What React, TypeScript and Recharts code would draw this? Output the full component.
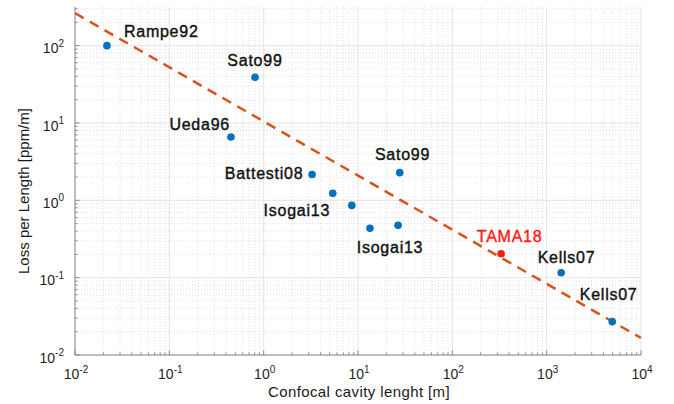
import React from 'react';
import { ScatterChart, Scatter, XAxis, YAxis, CartesianGrid } from 'recharts';

// ---- data ----
const pointX = [0.0218, 0.81, 0.45, 3.26, 5.4, 8.6, 27.7, 13.4, 26.6, 1426, 4955];
const pointY = [100, 39, 6.6, 2.16, 1.23, 0.86, 2.28, 0.435, 0.475, 0.116, 0.027];
const pointNames = ['Rampe92', 'Sato99', 'Ueda96', 'Battesti08', '', 'Isogai13', 'Sato99', 'Isogai13', '', 'Kells07', 'Kells07'];

const tamaX = [329];
const tamaY = [0.204];
const tamaNames = ['TAMA18'];

const fitX = [0.01, 10000];
const fitY = [263, 0.0166];

const xMajorTicks = [0.01, 0.1, 1, 10, 100, 1000, 10000];
const yMajorTicks = [0.01, 0.1, 1, 10, 100];
const xDomain = [0.01, 10000];
const yDomain = [0.01, 316];

// ---- layout (label offsets in px relative to each point) ----
const labelLayout: { dx: number; dy: number; anchor: 'start' | 'middle' | 'end' }[] = [
  { dx: 17, dy: -14.7, anchor: 'start' },
  { dx: -27.7, dy: -17.3, anchor: 'start' },
  { dx: -1, dy: -12.3, anchor: 'end' },
  { dx: -8.7, dy: -0.7, anchor: 'end' },
  { dx: 0, dy: 0, anchor: 'start' },
  { dx: -21.7, dy: 4.7, anchor: 'end' },
  { dx: 2.8, dy: -18, anchor: 'middle' },
  { dx: 20, dy: 19, anchor: 'middle' },
  { dx: 0, dy: 0, anchor: 'start' },
  { dx: 5.3, dy: -15.4, anchor: 'middle' },
  { dx: -3.6, dy: -27.3, anchor: 'middle' },
];
const tamaLayout = [{ dx: 8.5, dy: -17.6, anchor: 'middle' as const }];

const BLUE = '#0072BD';
const RED = '#FF1A1A';
const ORANGE = '#D95319';
const AXIS = '#8a8a8a';
const FONT = 'Helvetica, Arial, "Liberation Sans", sans-serif';

const minorsOf = (majors: number[], max: number) => {
  const out: number[] = [];
  majors.forEach((m) => {
    for (let k = 2; k <= 9; k++) {
      const v = m * k;
      if (v <= max) out.push(v);
    }
  });
  return out;
};
const xMinorTicks = minorsOf(xMajorTicks, xDomain[1]);
const yMinorTicks = minorsOf(yMajorTicks, yDomain[1]);
const xAllTicks = [...xMajorTicks, ...xMinorTicks].sort((a, b) => a - b);
const yAllTicks = [...yMajorTicks, ...yMinorTicks].sort((a, b) => a - b);

const isMajor = (v: number) => Math.abs(Math.log10(v) - Math.round(Math.log10(v))) < 1e-6;
const expOf = (v: number) => Math.round(Math.log10(v));

const mainData = pointX.map((x, i) => ({ x, y: pointY[i], i }));
const tamaData = tamaX.map((x, i) => ({ x, y: tamaY[i], i }));
const fitData = fitX.map((x, i) => ({ x, y: fitY[i] }));

const XTickBottom = (props: any) => {
  const { x, y, payload } = props;
  const v = payload.value;
  const major = isMajor(v);
  return (
    <g>
      <line x1={x} x2={x} y1={y} y2={y - (major ? 4.5 : 2.5)} stroke={AXIS} strokeWidth={1} />
      {major && (
        <text x={x + 1} y={y + 24} textAnchor="middle" fontSize={14} fill="#1f1f1f" fontFamily={FONT}>
          10
          <tspan dy={-6.5} fontSize={10}>
            {String(expOf(v))}
          </tspan>
        </text>
      )}
    </g>
  );
};

const XTickTop = (props: any) => {
  const { x, y, payload } = props;
  const major = isMajor(payload.value);
  return <line x1={x} x2={x} y1={y} y2={y + (major ? 4.5 : 2.5)} stroke={AXIS} strokeWidth={1} />;
};

const YTickLeft = (props: any) => {
  const { x, y, payload } = props;
  const v = payload.value;
  const major = isMajor(v);
  return (
    <g>
      <line x1={x} x2={x + (major ? 4.5 : 2.5)} y1={y} y2={y} stroke={AXIS} strokeWidth={1} />
      {major && (
        <text x={x - 11} y={y + 7.6} textAnchor="end" fontSize={14} fill="#1f1f1f" fontFamily={FONT}>
          10
          <tspan dy={-6.5} fontSize={10}>
            {String(expOf(v))}
          </tspan>
        </text>
      )}
    </g>
  );
};

const YTickRight = (props: any) => {
  const { x, y, payload } = props;
  const major = isMajor(payload.value);
  return <line x1={x} x2={x - (major ? 4.5 : 2.5)} y1={y} y2={y} stroke={AXIS} strokeWidth={1} />;
};

const makeShape = (color: string, names: string[], layout: { dx: number; dy: number; anchor: 'start' | 'middle' | 'end' }[]) =>
  (props: any) => {
    const { cx, cy, payload } = props;
    const idx = payload.i;
    const name = names[idx];
    const l = layout[idx];
    const textColor = color === RED ? RED : '#111111';
    return (
      <g>
        <circle cx={cx} cy={cy} r={3.8} fill={color} />
        {name && (
          <text
            x={cx + l.dx}
            y={cy + l.dy + 5.7}
            textAnchor={l.anchor}
            fontSize={16}
            letterSpacing={0.75}
            fill={textColor}
            stroke={textColor}
            strokeWidth={0.4}
            fontFamily={FONT}
          >
            {name}
          </text>
        )}
      </g>
    );
  };

const blueShape = makeShape(BLUE, pointNames, labelLayout);
const redShape = makeShape(RED, tamaNames, tamaLayout);

export default function App() {
  return (
    <div style={{ position: 'absolute', left: 0, top: 0, width: 674, height: 404, background: '#fff' }}>
      <ScatterChart width={674} height={404} margin={{ top: 7, right: 33, bottom: 9, left: 15 }}>
        <CartesianGrid
          xAxisId="b"
          yAxisId="l"
          verticalValues={xMinorTicks}
          horizontalValues={yMinorTicks}
          stroke="#d9d9d9"
          strokeDasharray="1 2"
          strokeWidth={0.8}
        />
        <CartesianGrid
          xAxisId="b"
          yAxisId="l"
          verticalValues={xMajorTicks}
          horizontalValues={yMajorTicks}
          stroke="#e4e4e4"
          strokeWidth={1}
        />
        <XAxis
          xAxisId="b"
          dataKey="x"
          type="number"
          scale="log"
          domain={xDomain}
          allowDataOverflow
          ticks={xAllTicks}
          interval={0}
          tick={<XTickBottom />}
          tickLine={false}
          tickSize={0}
          tickMargin={0}
          height={40}
          axisLine={{ stroke: AXIS, strokeWidth: 1 }}
          label={{
            content: (p: any) => {
              const vb = p.viewBox;
              return (
                <text
                  x={vb.x + vb.width / 2 + 1}
                  y={vb.y + 41.7}
                  textAnchor="middle"
                  fontSize={15}
                  letterSpacing={0.4}
                  fill="#1a1a1a"
                  fontFamily={FONT}
                >
                  Confocal cavity lenght [m]
                </text>
              );
            },
          }}
        />
        <XAxis
          xAxisId="t"
          orientation="top"
          dataKey="x"
          type="number"
          scale="log"
          domain={xDomain}
          allowDataOverflow
          ticks={xAllTicks}
          interval={0}
          tick={<XTickTop />}
          tickLine={false}
          tickSize={0}
          tickMargin={0}
          height={0}
          axisLine={{ stroke: AXIS, strokeWidth: 1 }}
        />
        <YAxis
          yAxisId="l"
          dataKey="y"
          type="number"
          scale="log"
          domain={yDomain}
          allowDataOverflow
          ticks={yAllTicks}
          interval={0}
          tick={<YTickLeft />}
          tickLine={false}
          tickSize={0}
          tickMargin={0}
          width={60}
          axisLine={{ stroke: AXIS, strokeWidth: 1 }}
          label={{
            content: (p: any) => {
              const vb = p.viewBox;
              const cx = 28.5;
              const cy = vb.y + vb.height / 2 + 10;
              return (
                <text
                  x={cx}
                  y={cy}
                  transform={`rotate(-90, ${cx}, ${cy})`}
                  textAnchor="middle"
                  fontSize={15}
                  fill="#1a1a1a"
                  fontFamily={FONT}
                >
                  Loss per Length [ppm/m]
                </text>
              );
            },
          }}
        />
        <YAxis
          yAxisId="r"
          orientation="right"
          dataKey="y"
          type="number"
          scale="log"
          domain={yDomain}
          allowDataOverflow
          ticks={yAllTicks}
          interval={0}
          tick={<YTickRight />}
          tickLine={false}
          tickSize={0}
          tickMargin={0}
          width={0}
          axisLine={{ stroke: AXIS, strokeWidth: 1 }}
        />
        <Scatter
          xAxisId="b"
          yAxisId="l"
          data={fitData}
          isAnimationActive={false}
          line={{ stroke: ORANGE, strokeWidth: 2.5, strokeDasharray: '10 7' }}
          shape={() => <g />}
        />
        <Scatter xAxisId="b" yAxisId="l" data={mainData} isAnimationActive={false} shape={blueShape} />
        <Scatter xAxisId="b" yAxisId="l" data={tamaData} isAnimationActive={false} shape={redShape} />
      </ScatterChart>
    </div>
  );
}
